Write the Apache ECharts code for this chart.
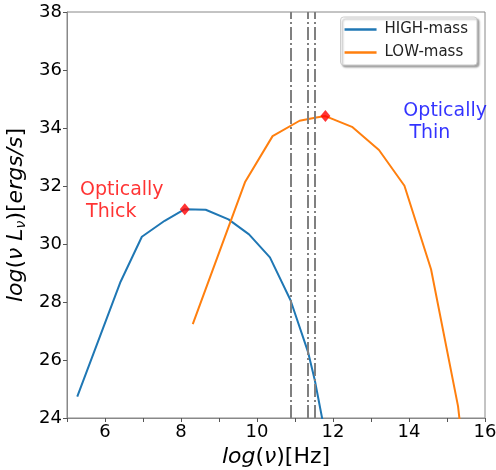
<!DOCTYPE html>
<html>
<head>
<meta charset="utf-8">
<script src="https://cdn.jsdelivr.net/npm/echarts@6/dist/echarts.min.js"></script>
<style>
  html, body { margin: 0; padding: 0; background: #fff; }
  #chart { width: 496px; height: 470px; }
</style>
</head>
<body>
<div id="chart"></div>
<script>
var highMass = [
    [5.27, 24.74], [6.41, 28.70], [6.97, 30.25], [7.57, 30.80], [8.10, 31.20],
    [8.65, 31.18], [9.25, 30.85], [9.79, 30.33], [10.34, 29.54], [10.88, 28.07],
    [11.34, 26.29], [11.52, 25.31], [11.72, 23.95]
];
var lowMass = [
    [8.31, 27.24], [9.69, 32.15], [10.41, 33.72], [11.12, 34.25], [11.56, 34.36],
    [11.80, 34.41], [12.50, 34.04], [13.21, 33.24], [13.88, 32.01], [14.58, 29.13],
    [15.29, 24.41], [15.33, 23.95]
];
var peaks = [[8.10, 31.20], [11.80, 34.41]];
var vLines = [10.90, 11.34, 11.52];
var notes = [
    { text: 'Optically\n Thick', value: [5.21, 32.4], color: '#ff0000' },
    { text: 'Optically\n Thin', value: [13.72, 35.15], color: '#0000ff' }
];

var font = 'DejaVu Sans';
var chart = echarts.init(document.getElementById('chart'), null, { renderer: 'canvas' });

var option = {
    animation: false,
    textStyle: { fontFamily: font },
    grid: {
        left: 67, right: 11, top: 12, bottom: 52,
        outerBoundsMode: 'none',
        containLabel: false,
        show: true, borderColor: '#888', borderWidth: 1
    },
    legend: {
        right: 19, top: 17,
        orient: 'vertical',
        data: ['HIGH-mass', 'LOW-mass'],
        icon: 'rect',
        itemWidth: 32, itemHeight: 2.5,
        itemGap: 8,
        padding: [5, 9, 5, 4],
        backgroundColor: '#fff',
        borderColor: '#ccc', borderWidth: 1, borderRadius: 3,
        shadowColor: 'rgba(0,0,0,0.35)', shadowBlur: 2, shadowOffsetX: 2, shadowOffsetY: 2,
        textStyle: { fontFamily: font, fontSize: 15, color: '#222', padding: [0, 0, 0, 3] }
    },
    xAxis: {
        type: 'value', min: 5, max: 16, interval: 1,
        axisLine: { show: true, onZero: false, lineStyle: { color: '#888' } },
        axisTick: { show: true, length: 4, lineStyle: { color: '#555' } },
        splitLine: { show: false },
        axisLabel: {
            fontFamily: font, fontSize: 18, color: '#000', margin: 5,
            formatter: function (v) { return v % 2 === 0 ? String(v) : ''; }
        },
        name: '{i|log}{n|(}{i|ν}{n|)[Hz]}',
        nameLocation: 'middle', nameGap: 27,
        nameTextStyle: {
            rich: {
                i: { fontFamily: font, fontSize: 22, fontStyle: 'italic', color: '#000' },
                n: { fontFamily: font, fontSize: 22, color: '#000' }
            }
        }
    },
    yAxis: {
        type: 'value', min: 24, max: 38, interval: 2,
        axisLine: { show: true, onZero: false, lineStyle: { color: '#888' } },
        axisTick: { show: true, length: 4, lineStyle: { color: '#555' } },
        splitLine: { show: false },
        axisLabel: { fontFamily: font, fontSize: 18, color: '#000', margin: 5 },
        name: '{i|log}{n|(}{i|ν L}{s|ν}{n|)[}{i|ergs/s}{n|]}',
        nameLocation: 'middle', nameGap: 36, nameRotate: 90,
        nameTextStyle: {
            rich: {
                i: { fontFamily: font, fontSize: 22, fontStyle: 'italic', color: '#000' },
                n: { fontFamily: font, fontSize: 22, color: '#000' },
                s: { fontFamily: font, fontSize: 14, fontStyle: 'italic', color: '#000', verticalAlign: 'bottom', padding: [9, 0, 0, 0] }
            }
        }
    },
    series: [{
        name: 'HIGH-mass',
        type: 'line',
        symbol: 'none',
        clip: true,
        color: '#1f77b4',
        lineStyle: { width: 2, color: '#1f77b4' },
        data: highMass,
        markLine: {
            silent: true,
            symbol: 'none',
            label: { show: false },
            lineStyle: { color: '#808080', width: 2, type: [13, 3, 2, 3] },
            data: vLines.map(function (x) { return { xAxis: x }; })
        }
    }, {
        name: 'LOW-mass',
        type: 'line',
        symbol: 'none',
        clip: true,
        color: '#ff7f0e',
        lineStyle: { width: 2, color: '#ff7f0e' },
        data: lowMass
    }, {
        name: 'peaks',
        type: 'scatter',
        symbol: 'diamond',
        symbolSize: [10, 12],
        itemStyle: { color: '#ff0000' },
        data: peaks,
        z: 5
    }, {
        name: 'notes',
        type: 'scatter',
        symbolSize: 0,
        silent: true,
        data: notes.map(function (n) {
            return {
                value: n.value,
                label: {
                    show: true, position: 'insideTopLeft', offset: [0, 0],
                    align: 'left', verticalAlign: 'top',
                    formatter: n.text, color: n.color,
                    fontFamily: font, fontSize: 19, lineHeight: 22
                }
            };
        })
    }]
};
chart.setOption(option);
</script>
</body>
</html>
